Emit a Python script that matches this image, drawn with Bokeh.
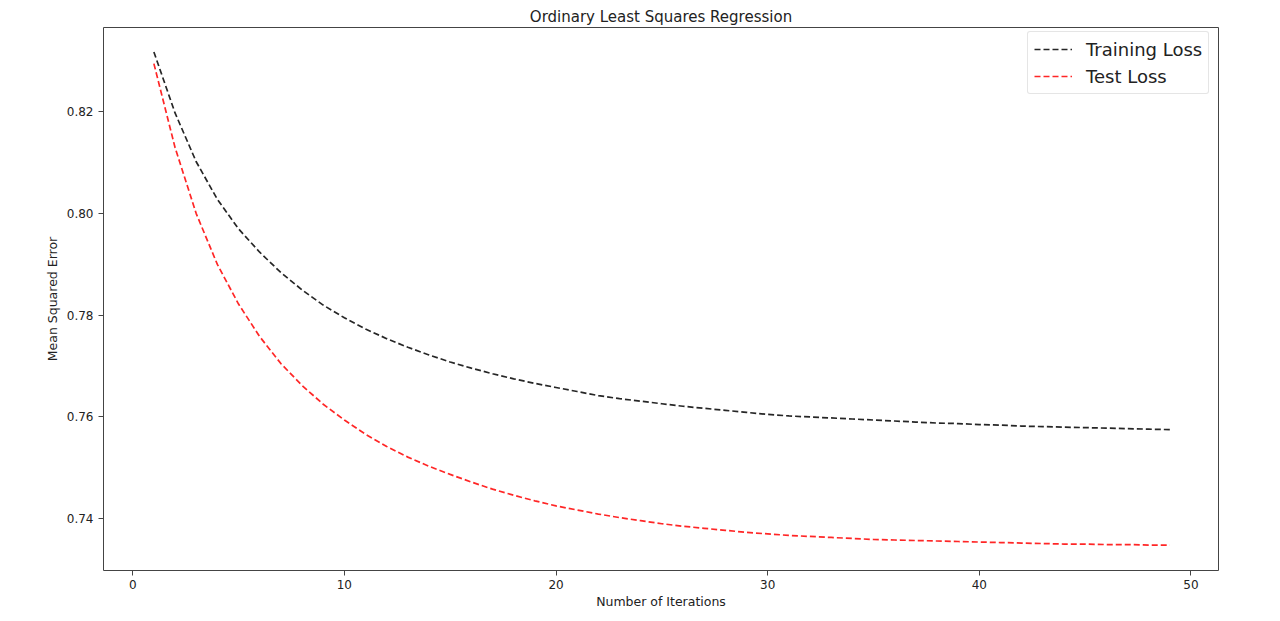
from bokeh.plotting import figure
from bokeh.models import Range1d, FixedTicker, Legend, LegendItem, PrintfTickFormatter
from bokeh.embed import file_html
from bokeh.resources import INLINE

iterations = list(range(1, 50))
training_loss = [
    0.8318, 0.8198, 0.8102, 0.8028, 0.7970, 0.7924, 0.7884, 0.7850, 0.7820, 0.7795,
    0.7773, 0.7754, 0.7737, 0.7722, 0.7708, 0.7696, 0.7685, 0.7675, 0.7666, 0.7658,
    0.7650, 0.7642, 0.7636, 0.7631, 0.7626, 0.7621, 0.7617, 0.7613, 0.7609, 0.7605,
    0.7602, 0.7600, 0.7598, 0.7596, 0.7594, 0.7592, 0.7590, 0.7588, 0.7587, 0.7585,
    0.7584, 0.7582, 0.7581, 0.7580, 0.7579, 0.7578, 0.7577, 0.7576, 0.7575,
]
test_loss = [
    0.8295, 0.8130, 0.8000, 0.7900, 0.7822, 0.7758, 0.7705, 0.7662, 0.7625, 0.7594,
    0.7566, 0.7542, 0.7521, 0.7503, 0.7487, 0.7472, 0.7458, 0.7446, 0.7435, 0.7425,
    0.7417, 0.7409, 0.7402, 0.7396, 0.7390, 0.7385, 0.7381, 0.7377, 0.7373, 0.7370,
    0.7367, 0.7365, 0.7363, 0.7361, 0.7359, 0.7358, 0.7357, 0.7356, 0.7355, 0.7354,
    0.7353, 0.7352, 0.7351, 0.7350, 0.7350, 0.7349, 0.7349, 0.7348, 0.7348,
]
x_ticks = [0, 10, 20, 30, 40, 50]
y_ticks = [0.74, 0.76, 0.78, 0.80, 0.82]

FONT = "DejaVu Sans"

p = figure(
    width=1272, height=613,
    output_backend="svg", toolbar_location=None,
    x_range=Range1d(-1.38, 51.3), y_range=Range1d(0.7298, 0.8366),
    min_border_left=103, min_border_right=54, min_border_top=27, min_border_bottom=43,
    title="Ordinary Least Squares Regression",
)
p.title.align = "center"
p.title.text_font = FONT
p.title.text_font_size = "15px"
p.title.text_font_style = "normal"
p.title.text_color = "#222222"
p.title.standoff = 4

p.xgrid.visible = False
p.ygrid.visible = False
p.outline_line_color = "#444444"
p.outline_line_width = 1

for ax in (p.xaxis[0], p.yaxis[0]):
    ax.axis_line_color = None
    ax.major_tick_line_color = "#444444"
    ax.major_tick_out = 5
    ax.major_tick_in = 0
    ax.minor_tick_line_color = None
    ax.major_label_text_font = FONT
    ax.major_label_text_font_size = "12px"
    ax.major_label_text_color = "#222222"
    ax.axis_label_text_font = FONT
    ax.axis_label_text_font_size = "12.5px"
    ax.axis_label_text_font_style = "normal"
    ax.axis_label_text_color = "#222222"

p.xaxis.ticker = FixedTicker(ticks=x_ticks)
p.yaxis.ticker = FixedTicker(ticks=y_ticks)
p.yaxis.formatter = PrintfTickFormatter(format="%.2f")
p.xaxis.axis_label = "Number of Iterations"
p.yaxis.axis_label = "Mean Squared Error"
p.xaxis.major_label_standoff = 4
p.yaxis.major_label_standoff = 5
p.xaxis.axis_label_standoff = 2
p.yaxis.axis_label_standoff = 4

r1 = p.line(iterations, training_loss, line_color="black", line_alpha=0.85,
            line_width=1.7, line_dash="6 3")
r2 = p.line(iterations, test_loss, line_color="red", line_alpha=0.85,
            line_width=1.7, line_dash="6 3")

legend = Legend(items=[LegendItem(label="Training Loss", renderers=[r1]),
                       LegendItem(label="Test Loss", renderers=[r2])],
                location=(924, 476))
legend.label_text_font = FONT
legend.label_text_font_size = "18px"
legend.label_text_color = "#222222"
legend.glyph_width = 38
legend.glyph_height = 22
legend.label_height = 22
legend.spacing = 5
legend.padding = 6
legend.margin = 0
legend.border_line_color = "#cccccc"
legend.border_radius = 3
legend.label_standoff = 14
p.add_layout(legend)

open("out.html", "w").write(file_html(p, INLINE))
